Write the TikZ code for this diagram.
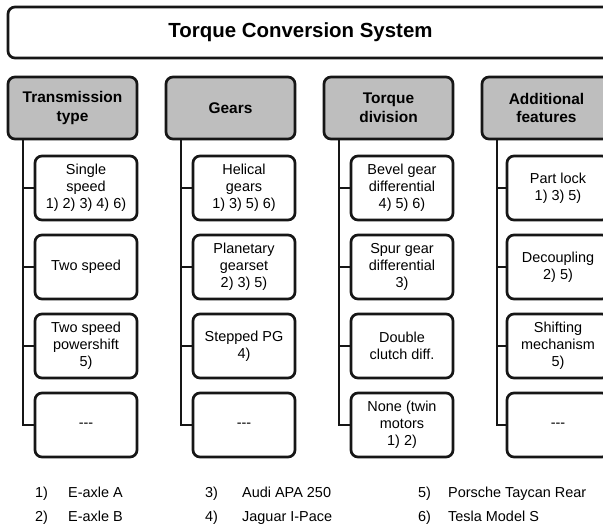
\documentclass[tikz,border=0pt]{standalone}
\usepackage{fontspec}
\setmainfont{Liberation Sans}
\definecolor{catgray}{RGB}{190,190,190}
\definecolor{edge}{RGB}{22,22,22}
\begin{document}
\begin{tikzpicture}[x=1bp,y=-1bp,
  box/.style={draw=edge, line width=2.7bp, rounded corners=7bp, inner sep=0pt, outer sep=0pt, align=center, anchor=north west},
  titlebox/.style={box, fill=white, minimum width=610bp, minimum height=51bp},
  titletext/.style={inner sep=0pt, anchor=base, font=\fontsize{20.5}{24}\selectfont\bfseries},
  catbox/.style={box, fill=catgray, minimum width=129bp, minimum height=62bp, font=\fontsize{15.5}{19}\selectfont\bfseries},
  subbox/.style={box, fill=white, minimum width=102bp, minimum height=64bp, font=\fontsize{14.5}{17}\selectfont},
  conn/.style={draw=edge, line width=2.7bp},
  legnum/.style={anchor=base west, inner sep=0pt, font=\fontsize{14.5}{17}\selectfont},
  legtext/.style={legnum}]
\useasboundingbox (0,0) rectangle (603,527);
\clip (0,0) rectangle (603,527);
\fill[white] (0,0) rectangle (603,527);

% title
\node[titlebox] (tbox) at (8,7) {};
\node[titletext] (title) at (300.5,37.5) {Torque Conversion System};

% category boxes
\node[catbox] (c1) at (8,77)   {Transmission\\type};
\node[catbox] (c2) at (166,77) {Gears};
\node[catbox] (c3) at (324,77) {Torque\\division};
\node[catbox] (c4) at (482,77) {Additional\\features};

% line origins
\coordinate (v1) at ([xshift=15bp]c1.south west);
\coordinate (v2) at ([xshift=15bp]c2.south west);
\coordinate (v3) at ([xshift=15bp]c3.south west);
\coordinate (v4) at ([xshift=15bp]c4.south west);

% column 1
\node[subbox] (s11) at (35,156) {Single\\speed\\1) 2) 3) 4) 6)};
\node[subbox] (s12) at (35,235) {Two speed};
\node[subbox] (s13) at (35,314) {Two speed\\powershift\\5)};
\node[subbox] (s14) at (35,393) {-{}-{}-};

% column 2
\node[subbox] (s21) at (193,156) {Helical\\gears\\1) 3) 5) 6)};
\node[subbox] (s22) at (193,235) {Planetary\\gearset\\2) 3) 5)};
\node[subbox] (s23) at (193,314) {Stepped PG\\4)};
\node[subbox] (s24) at (193,393) {-{}-{}-};

% column 3
\node[subbox] (s31) at (351,156) {Bevel gear\\differential\\4) 5) 6)};
\node[subbox] (s32) at (351,235) {Spur gear\\differential\\3)};
\node[subbox] (s33) at (351,314) {Double\\clutch diff.};
\node[subbox] (s34) at (351,393) {None (twin\\motors\\1) 2)};

% column 4
\node[subbox] (s41) at (507,156) {Part lock\\1) 3) 5)};
\node[subbox] (s42) at (507,235) {Decoupling\\2) 5)};
\node[subbox] (s43) at (507,314) {Shifting\\mechanism\\5)};
\node[subbox] (s44) at (507,393) {-{}-{}-};

% connectors
\foreach \c in {1,2,3,4}{
  \draw[conn] (v\c) |- (s\c4.west);
  \foreach \r in {1,2,3}{
    \draw[conn] (s\c\r.west) -- (s\c\r.west -| v\c);
  }
}

% legend
\node[legnum] (n1) at (35,497) {1)};  \node[legtext] (l1) at (68,497) {E-axle A};
\node[legnum] (n2) at (35,521) {2)};  \node[legtext] (l2) at (68,521) {E-axle B};
\node[legnum] (n3) at (205,497) {3)}; \node[legtext] (l3) at (242,497) {Audi APA 250};
\node[legnum] (n4) at (205,521) {4)}; \node[legtext] (l4) at (242,521) {Jaguar I-Pace};
\node[legnum] (n5) at (418,497) {5)}; \node[legtext] (l5) at (448,497) {Porsche Taycan Rear};
\node[legnum] (n6) at (418,521) {6)}; \node[legtext] (l6) at (448,521) {Tesla Model S};
\end{tikzpicture}
\end{document}
